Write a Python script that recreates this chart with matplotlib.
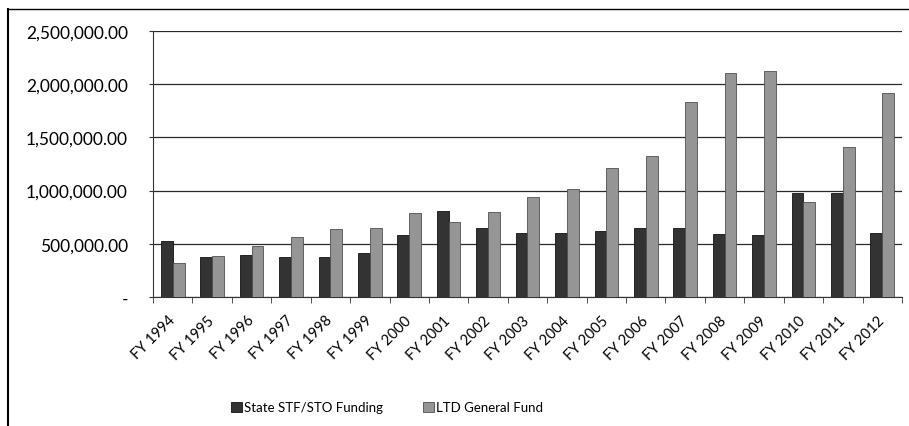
import numpy as np
import matplotlib
matplotlib.use("Agg")
import matplotlib.pyplot as plt
from matplotlib.lines import Line2D
from matplotlib.ticker import FuncFormatter

plt.rcParams['font.family'] = ['Lato', 'DejaVu Sans']

years = ["FY 1994", "FY 1995", "FY 1996", "FY 1997", "FY 1998", "FY 1999", "FY 2000",
         "FY 2001", "FY 2002", "FY 2003", "FY 2004", "FY 2005", "FY 2006", "FY 2007",
         "FY 2008", "FY 2009", "FY 2010", "FY 2011", "FY 2012"]
state_stf = [526000, 376000, 395000, 376000, 380000, 415000, 585000,
             811000, 648000, 604000, 598000, 623000, 648000, 648000,
             589000, 580000, 975000, 975000, 598000]
ltd_general = [320000, 385000, 480000, 564000, 640000, 650000, 787000,
               702000, 796000, 943000, 1012000, 1209000, 1325000, 1830000,
               2105000, 2124000, 893000, 1410000, 1914000]

fig = plt.figure(figsize=(9.09, 4.27), dpi=100)
ax = fig.add_axes([0.1683, 0.3021, 0.8240, 0.6230])

x = np.arange(len(years))
w = 0.3
ax.bar(x - w / 2, state_stf, w, color="#333333", edgecolor="#111111", linewidth=0.6,
       label="State STF/STO Funding", zorder=3)
ax.bar(x + w / 2, ltd_general, w, color="#959595", edgecolor="#505050", linewidth=0.6,
       label="LTD General Fund", zorder=3)

ax.set_xlim(-0.5, len(years) - 0.5)
ax.set_ylim(0, 2500000)
ax.set_yticks(np.arange(0, 2500001, 500000))
ax.yaxis.set_major_formatter(FuncFormatter(lambda v, p: "-" if v == 0 else f"{v:,.2f}"))
ax.grid(axis="y", color="#2a2a2a", linewidth=0.9, zorder=0)

ax.set_xticks(x)
ax.set_xticklabels(years, rotation=45, ha="right", va="center", rotation_mode="anchor")
ax.set_xticks(np.arange(-0.5, len(years), 1), minor=True)
ax.tick_params(axis="x", which="major", length=0, pad=15, labelsize=10.5)
ax.tick_params(axis="x", which="minor", length=4, color="#333333")
ax.tick_params(axis="y", length=3, labelsize=12.5, color="#333333", pad=15)

for s in ["top", "right"]:
    ax.spines[s].set_visible(False)
ax.spines["left"].set_color("#333333")
ax.spines["bottom"].set_color("#333333")

fig.legend(loc="center", bbox_to_anchor=(0.426, 0.044), ncol=2, frameon=False,
           fontsize=9.5, handlelength=0.8, handleheight=0.8, handletextpad=0.2,
           columnspacing=3.0)

# chart border (left and top edges visible in the scan)
fig.add_artist(Line2D([8 / 909, 8 / 909], [0, 1 - 10 / 427], transform=fig.transFigure,
                      color="black", linewidth=1.5))
fig.add_artist(Line2D([8 / 909, 1], [1 - 10 / 427, 1 - 10 / 427], transform=fig.transFigure,
                      color="black", linewidth=1.0))

fig.savefig("out.png", dpi=100)
